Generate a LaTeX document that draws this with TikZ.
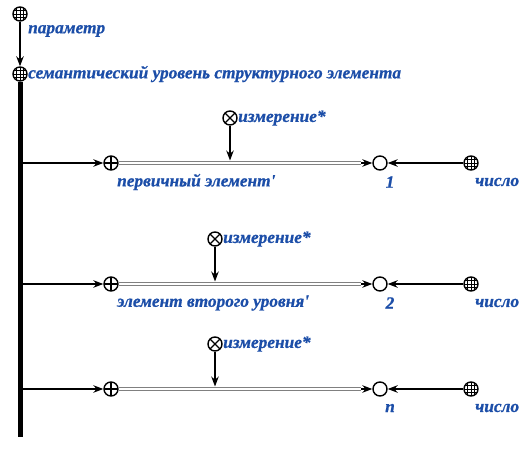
\documentclass[tikz,border=0pt]{standalone}
\usepackage{fontspec}
\newfontfamily\lblfont{Liberation Serif}[BoldItalicFeatures={FakeBold=0.8}]
\usetikzlibrary{arrows.meta,calc}
\definecolor{lblblue}{RGB}{28,78,168}
\definecolor{dgray}{RGB}{128,128,128}
\begin{document}
\begin{tikzpicture}[x=1pt,y=-1pt,
  pt/.style={circle, draw, line width=1.4pt, minimum size=14pt, inner sep=0pt, fill=white},
  gridpt/.style={pt, path picture={
     \foreach \d in {-3.2,0,3.2}{
       \draw[line width=0.9pt] ([xshift=\d pt]path picture bounding box.north) -- ([xshift=\d pt]path picture bounding box.south);
       \draw[line width=0.9pt] ([yshift=\d pt]path picture bounding box.west) -- ([yshift=\d pt]path picture bounding box.east);}}},
  pluspt/.style={pt, path picture={
       \draw[line width=1.3pt] (path picture bounding box.north) -- (path picture bounding box.south);
       \draw[line width=1.3pt] (path picture bounding box.west) -- (path picture bounding box.east);}},
  crosspt/.style={pt, path picture={
       \draw[line width=1.3pt] (path picture bounding box.north west) -- (path picture bounding box.south east);
       \draw[line width=1.3pt] (path picture bounding box.south west) -- (path picture bounding box.north east);}},
  lbl/.style={text=lblblue, font=\lblfont\bfseries\itshape\fontsize{17.3}{19}\selectfont, inner sep=0pt, anchor=west},
  arr/.style={-{Stealth[length=10pt,width=7.5pt]}, line width=1.3pt},
  dbl/.style={draw=dgray, double=white, double distance=1.8pt, line width=1.5pt},
  bar/.style={line width=5pt}
]
\useasboundingbox (0,0) rectangle (528,449);
% top
\node[gridpt] (p0) at (20,14) {};
\node[lbl] (lp) at (28,31) {параметр};
\node[gridpt] (s0) at (20,74) {};
\node[lbl] (ls) at (28,74) {семантический уровень структурного элемента};
\draw[arr] (p0) -- (s0);
\coordinate (barend) at (20,437);
\draw[bar] (s0.south) -- (barend);

% rows
\foreach \r/\y/\mx/\lab/\num in {1/163/230/{первичный элемент'}/1, 2/284/215/{элемент второго уровня'}/2, 3/389/215/{}/n}{
  \coordinate (b\r) at (20,\y);
  \node[pluspt] (o\r) at (111,\y) {};
  \node[pt] (c\r) at (380,\y) {};
  \node[gridpt] (g\r) at (471,\y) {};
  \node[crosspt] (x\r) at (\mx,\y-45) {};
  \node[lbl] (lx\r) at (\mx+8,\y-45) {измерение*};
  \node[lbl] (lo\r) at (117,\y+19) {\lab};
  \node[lbl, anchor=center] (lc\r) at (390,\y+19) {\num};
  \node[lbl] (lg\r) at (475,\y+19) {число};
  \coordinate (a\r) at (361,\y);
  \coordinate (m\r) at (\mx,\y-2.5);
  \draw[arr] (b\r) -- (o\r);
  \draw[dbl] (o\r) -- (a\r);
  \draw[arr] (a\r) -- (c\r);
  \draw[arr] (g\r) -- (c\r);
  \draw[arr] (x\r) -- (m\r);
}
\end{tikzpicture}
\end{document}
